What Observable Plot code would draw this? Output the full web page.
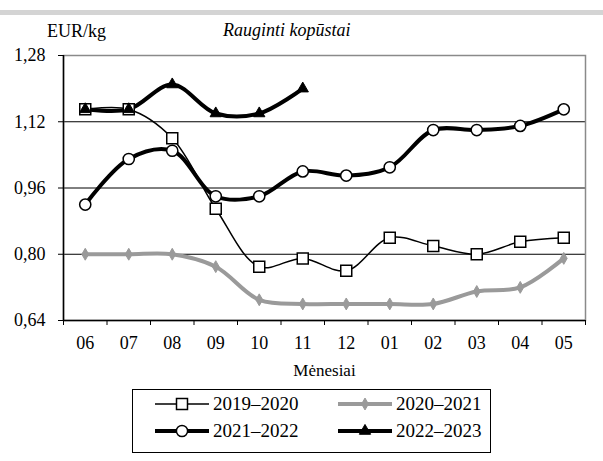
<!DOCTYPE html>
<html>
<head>
<meta charset="utf-8">
<script src="https://cdn.jsdelivr.net/npm/d3@7"></script>
<script src="https://cdn.jsdelivr.net/npm/@observablehq/plot@0.6"></script>
<style>
  html, body { margin: 0; padding: 0; background: #fff; }
  #wrap { position: relative; width: 603px; height: 461px; overflow: hidden; font-family: "Liberation Serif", "Times New Roman", Times, "DejaVu Serif", serif; color: #000; }
  .abs { position: absolute; white-space: nowrap; }
  #topbar { position: absolute; left: 0; top: 10px; width: 603px; height: 5px; background: #d4d4d4; }
  #chart { position: absolute; left: 0; top: 0; }
  #legend { position: absolute; left: 132px; top: 389px; width: 357px; height: 62px; border: 1px solid #000; }
</style>
</head>
<body>
<div id="wrap">
  <div id="topbar"></div>
  <div id="chart"></div>
  <div class="abs" id="unit" style="left:47px; top:21px; font-size:18px;">EUR/kg</div>
  <div class="abs" id="title" style="left:223px; top:20px; font-size:18px; font-style:italic;">Rauginti kopūstai</div>
  <div class="abs" id="xlabel" style="left:0; width:649px; text-align:center; top:361px; font-size:17px;">Mėnesiai</div>
  <div id="legend"></div>
</div>
<script>
const months = ["06","07","08","09","10","11","12","01","02","03","04","05"];
const seriesNames = ["2019–2020","2020–2021","2021–2022","2022–2023"];
const s2019 = [1.15,1.15,1.08,0.91,0.77,0.79,0.76,0.84,0.82,0.80,0.83,0.84];
const s2020 = [0.80,0.80,0.80,0.77,0.69,0.68,0.68,0.68,0.68,0.71,0.72,0.79];
const s2021 = [0.92,1.03,1.05,0.94,0.94,1.00,0.99,1.01,1.10,1.10,1.11,1.15];
const s2022 = [1.15,1.15,1.21,1.14,1.14,1.20];
const yTicks = [0.64,0.80,0.96,1.12,1.28];

const FONT = "'Liberation Serif', 'Times New Roman', Times, 'DejaVu Serif', serif";
const styles = [
  {stroke:"#000", width:1.5, symbol:"square", r:6.2, fill:"#fff", mstroke:"#000", mwidth:1.5},
  {stroke:"#9a9a9a", width:4, symbol:"diamond", r:3.6, fill:"#9a9a9a", mstroke:"#9a9a9a", mwidth:1},
  {stroke:"#000", width:4, symbol:"circle", r:5.6, fill:"#fff", mstroke:"#000", mwidth:1.5},
  {stroke:"#000", width:4, symbol:"triangle", r:4.2, fill:"#000", mstroke:"#000", mwidth:1}
];
const allSeries = [s2019, s2020, s2021, s2022];
const tables = allSeries.map((vals, k) => vals.map((v, i) => ({i, v, s: seriesNames[k]})));
const boundaries = d3.range(months.length + 1).map(i => i - 0.5);
const fmt = d => d.toFixed(2).replace(".", ",");

const marks = [
  Plot.ruleY(yTicks.slice(1, -1), {stroke: "#000", strokeWidth: 1}),
  Plot.frame({stroke: "#8a8a8a", strokeWidth: 1.5}),
  Plot.ruleX([boundaries[0]], {stroke: "#000", strokeWidth: 1.5}),
  Plot.ruleY([yTicks[0]], {stroke: "#000", strokeWidth: 1.5}),
  Plot.axisY({ticks: yTicks, tickFormat: fmt, tickSize: 5, tickPadding: 13, label: null, fontSize: 18, fontFamily: FONT}),
  Plot.axisX({ticks: boundaries, tickFormat: () => "", tickSize: 5, label: null}),
  Plot.axisX({ticks: d3.range(months.length), tickFormat: i => months[i], tickSize: 0, tickPadding: 16, label: null, fontSize: 18, fontFamily: FONT})
];
tables.forEach((t, k) => {
  const st = styles[k];
  marks.push(Plot.line(t, {x: "i", y: "v", stroke: st.stroke, strokeWidth: st.width, curve: "catmull-rom"}));
});
tables.forEach((t, k) => {
  const st = styles[k];
  marks.push(Plot.dot(t, {x: "i", y: "v", symbol: () => st.symbol, r: st.r, fill: st.fill, stroke: st.mstroke, strokeWidth: st.mwidth}));
});

const chart = Plot.plot({
  width: 603,
  height: 360,
  marginTop: 55,
  marginBottom: 40,
  marginLeft: 63,
  marginRight: 18,
  style: {fontFamily: FONT, fontSize: "18px", color: "#000", background: "transparent"},
  x: {type: "linear", domain: [boundaries[0], boundaries[boundaries.length - 1]]},
  y: {domain: [yTicks[0], yTicks[yTicks.length - 1]]},
  symbol: {type: "identity"},
  marks
});
document.getElementById("chart").appendChild(chart);

// Legend
const legend = d3.select("#legend");
const positions = [[22, 14], [205, 14], [22, 41], [205, 41]];
seriesNames.forEach((name, k) => {
  const st = styles[k];
  const [lx, ly] = positions[k];
  const item = legend.append("div").style("position", "absolute").style("left", lx + "px").style("top", ly + "px").style("height", "0");
  const svg = item.append("svg").attr("width", 56).attr("height", 16).style("position", "absolute").style("left", "0").style("top", "-8px");
  svg.append("line").attr("x1", 0).attr("x2", 54).attr("y1", 8).attr("y2", 8).attr("stroke", st.stroke).attr("stroke-width", st.width);
  const sym = {square: d3.symbolSquare, diamond: d3.symbolDiamond, circle: d3.symbolCircle, triangle: d3.symbolTriangle}[st.symbol];
  svg.append("path").attr("d", d3.symbol(sym, Math.PI * st.r * st.r)()).attr("transform", "translate(27,8)")
    .attr("fill", st.fill).attr("stroke", st.mstroke).attr("stroke-width", st.mwidth);
  item.append("span").text(name).style("position", "absolute").style("left", "58px").style("top", "-11px")
    .style("font-size", "19px").style("line-height", "22px").style("white-space", "nowrap").style("font-family", FONT);
});
</script>
</body>
</html>
